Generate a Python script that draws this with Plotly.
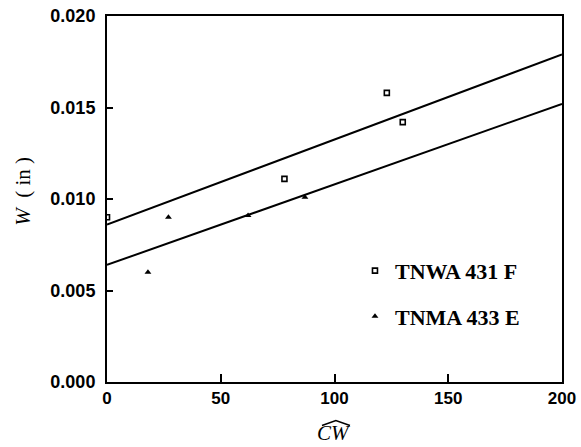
import plotly.graph_objects as go

# Measured wear W (in) against the cutting-work parameter CW
tnwa_cw = [0, 78, 123, 130]
tnwa_w = [0.0090, 0.0111, 0.0158, 0.0142]

tnma_cw = [18, 27, 62, 87]
tnma_w = [0.0060, 0.0090, 0.0091, 0.0101]

# Straight-line fits, drawn between the axis limits
fit_cw = [0, 200]
upper_w = [0.0086, 0.0179]
lower_w = [0.0064, 0.0152]

x_ticks = [0, 50, 100, 150, 200]
y_ticks = [0.000, 0.005, 0.010, 0.015, 0.020]

serif = "Liberation Serif"
sans = "Liberation Sans"

fig = go.Figure()

fig.add_trace(go.Scatter(x=fit_cw, y=upper_w, mode="lines",
                         line=dict(color="black", width=2), showlegend=False))
fig.add_trace(go.Scatter(x=fit_cw, y=lower_w, mode="lines",
                         line=dict(color="black", width=2), showlegend=False))

fig.add_trace(go.Scatter(x=tnwa_cw, y=tnwa_w, mode="markers", name="TNWA 431 F",
                         legendgroup="a",
                         marker=dict(symbol="square-open", size=5, color="black",
                                     line=dict(width=1.6, color="black"))))
fig.add_trace(go.Scatter(x=tnma_cw, y=tnma_w, mode="markers", name="TNMA 433 E",
                         legendgroup="b",
                         marker=dict(symbol="triangle-up", size=6, color="black")))

axis_common = dict(
    showgrid=False, zeroline=False, showline=True, linecolor="black",
    linewidth=2, mirror=True, ticks="inside", tickcolor="black", tickwidth=2,
    automargin=False,
)

fig.update_xaxes(range=[0, 200], tickvals=x_ticks, ticklen=8,
                 ticklabelstandoff=0,
                 tickfont=dict(family=sans, size=17, color="black", weight="bold"),
                 **axis_common)
fig.update_yaxes(range=[0, 0.020], tickvals=y_ticks, tickformat=".3f",
                 ticklen=6, ticklabelstandoff=6,
                 tickfont=dict(family=sans, size=18, color="black", weight="bold"),
                 **axis_common)

# Axis titles
fig.add_annotation(text="<i>W</i>\u00a0\u00a0( in )", xref="paper", yref="paper",
                   x=-0.185, y=0.522, xanchor="center", yanchor="middle",
                   textangle=-90, showarrow=False,
                   font=dict(family=serif, size=21, color="black"))
fig.add_annotation(text="<i>CW</i>", xref="paper", yref="paper",
                   x=0.499, y=-0.138, xanchor="center", yanchor="middle",
                   showarrow=False,
                   font=dict(family=serif, size=21, color="black"))
# Wide hat over the x-axis title
fig.add_shape(type="path", xref="paper", yref="paper",
              path="M 0.4725 -0.119 L 0.503 -0.105 L 0.534 -0.119",
              line=dict(color="black", width=1.5))

fig.update_layout(
    width=581, height=447,
    margin=dict(l=107, r=19, t=16, b=65),
    paper_bgcolor="white", plot_bgcolor="white",
    legend=dict(x=0.545, y=0.361, xanchor="left", yanchor="top",
                traceorder="grouped", tracegroupgap=14,
                bgcolor="rgba(0,0,0,0)",
                font=dict(family=serif, size=22, color="black", weight="bold")),
)

fig.write_html("out.html")
